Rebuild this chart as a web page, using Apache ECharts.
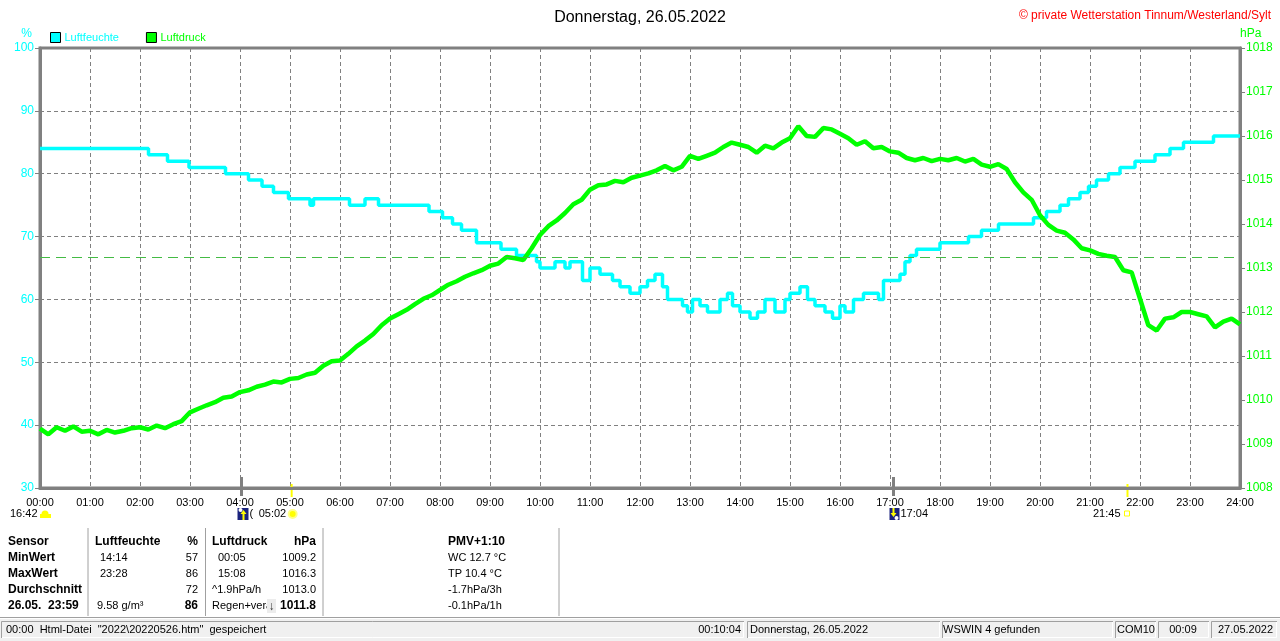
<!DOCTYPE html>
<html>
<head>
<meta charset="utf-8">
<script src="https://cdn.jsdelivr.net/npm/echarts/dist/echarts.min.js"></script>
<style>
  html, body { margin: 0; padding: 0; background: #fff; }
  #chart { width: 1280px; height: 641px; }
</style>
</head>
<body>
<div id="chart"></div>
<script>
// Luftfeuchte (%), stepwise: time in hours -> new value
const humidityTimes = [0, 2.17, 2.55, 2.98, 3.71, 4.17, 4.44, 4.67, 4.97, 5.40, 5.47, 6.19, 6.50, 6.77, 7.78,
  8.05, 8.25, 8.43, 8.73, 9.22, 9.53, 9.93, 10.0, 10.3, 10.5, 10.6, 10.85, 11.0, 11.2, 11.45, 11.6, 11.8,
  12.0, 12.15, 12.3, 12.45, 12.55, 12.85, 12.95, 13.05, 13.2, 13.35, 13.6, 13.75, 13.85, 14.0, 14.2, 14.35,
  14.5, 14.7, 14.9, 15.0, 15.2, 15.35, 15.5, 15.7, 15.85, 16.0, 16.1, 16.27, 16.47, 16.77, 16.87, 17.2,
  17.3, 17.4, 17.53, 18.0, 18.13, 18.57, 18.83, 19.17, 19.87, 20.13, 20.4, 20.57, 20.8, 20.97, 21.13,
  21.37, 21.6, 21.9, 22.3, 22.6, 22.87, 23.47, 24];
const humidityValues = [84, 83, 82, 81, 80, 79, 78, 77, 76, 75, 76, 75, 76, 75, 74,
  73, 72, 71, 69, 68, 67, 66, 65, 66, 65, 66, 63, 65, 64, 63, 62, 61,
  62, 63, 64, 62, 60, 59, 58, 60, 59, 58, 60, 61, 59, 58, 57, 58,
  60, 58, 60, 61, 62, 60, 59, 58, 57, 59, 58, 60, 61, 60, 63, 64,
  66, 67, 68, 69, 69, 70, 71, 72, 73, 74, 75, 76, 77, 78, 79,
  80, 81, 82, 83, 84, 85, 86, 86];

// Luftdruck (hPa), one reading every 10 minutes from 00:00 to 24:00
const pressureStepMinutes = 10;
const pressureValues = [
  1009.35, 1009.22, 1009.38, 1009.30, 1009.40, 1009.28,   // 00
  1009.30, 1009.22, 1009.32, 1009.26, 1009.30, 1009.36,   // 01
  1009.38, 1009.33, 1009.42, 1009.36, 1009.45, 1009.52,   // 02
  1009.72, 1009.80, 1009.88, 1009.95, 1010.05, 1010.08,   // 03
  1010.18, 1010.22, 1010.30, 1010.35, 1010.42, 1010.40,   // 04
  1010.48, 1010.50, 1010.58, 1010.62, 1010.78, 1010.88,   // 05
  1010.90, 1011.05, 1011.22, 1011.35, 1011.50, 1011.70,   // 06
  1011.85, 1011.95, 1012.05, 1012.18, 1012.30, 1012.38,   // 07
  1012.50, 1012.62, 1012.70, 1012.80, 1012.88, 1012.95,   // 08
  1013.05, 1013.10, 1013.25, 1013.22, 1013.18, 1013.45,   // 09
  1013.75, 1013.95, 1014.08, 1014.25, 1014.45, 1014.55,   // 10
  1014.78, 1014.88, 1014.90, 1014.98, 1014.95, 1015.05,   // 11
  1015.10, 1015.15, 1015.22, 1015.32, 1015.22, 1015.30,   // 12
  1015.55, 1015.48, 1015.55, 1015.62, 1015.75, 1015.85,   // 13
  1015.80, 1015.75, 1015.62, 1015.78, 1015.72, 1015.85,   // 14
  1015.95, 1016.22, 1016.00, 1015.98, 1016.18, 1016.15,   // 15
  1016.05, 1015.95, 1015.80, 1015.88, 1015.72, 1015.75,   // 16
  1015.65, 1015.62, 1015.50, 1015.45, 1015.50, 1015.43,   // 17
  1015.48, 1015.45, 1015.50, 1015.42, 1015.48, 1015.35,   // 18
  1015.30, 1015.36, 1015.25, 1014.95, 1014.72, 1014.55,   // 19
  1014.20, 1013.98, 1013.85, 1013.80, 1013.65, 1013.45,   // 20
  1013.40, 1013.32, 1013.28, 1013.25, 1012.95, 1012.90,   // 21
  1012.30, 1011.70, 1011.58, 1011.85, 1011.88, 1012.00,   // 22
  1012.00, 1011.95, 1011.90, 1011.65, 1011.78, 1011.85,   // 23
  1011.72                                                 // 24
];

const pressureRef = 1013.25;
const sunTimes = [5.033, 21.75];   // Sonnenaufgang / -untergang
const moonTimes = [4.03, 17.07];   // Mond

const FONT = 'Liberation Sans';
const GRID_LINE = '#808080';

const chart = echarts.init(document.getElementById('chart'));

const hourLabel = v => (v < 10 ? '0' : '') + v + ':00';

const option = {
  animation: false,
  backgroundColor: '#fff',
  textStyle: { fontFamily: FONT },
  title: [
    { text: 'Donnerstag, 26.05.2022', left: 'center', top: 5,
      textStyle: { fontFamily: FONT, fontSize: 16, fontWeight: 'normal', color: '#000' } },
    { text: '\u00a9 private Wetterstation Tinnum/Westerland/Sylt', right: 4, top: 5,
      textStyle: { fontFamily: FONT, fontSize: 12, fontWeight: 'normal', color: '#ff0000' } }
  ],
  legend: {
    left: 45, top: 27, itemWidth: 10, itemHeight: 10, itemGap: 27,
    icon: 'rect',
    textStyle: { fontFamily: FONT, fontSize: 11, padding: [0, 0, 0, -1] },
    data: [
      { name: 'Luftfeuchte', textStyle: { color: '#00ffff' }, itemStyle: { color: '#00ffff', borderColor: '#000', borderWidth: 1 } },
      { name: 'Luftdruck', textStyle: { color: '#00ff00' }, itemStyle: { color: '#00ff00', borderColor: '#000', borderWidth: 1 } }
    ]
  },
  grid: { left: 40, top: 48, width: 1200, height: 440, show: true, borderColor: GRID_LINE, borderWidth: 3,
    outerBoundsMode: 'none', containLabel: false },
  xAxis: {
    type: 'value', min: 0, max: 24, interval: 1,
    axisLine: { show: true, onZero: false, lineStyle: { color: GRID_LINE, width: 3 } },
    axisTick: { show: false },
    axisLabel: { color: '#000', fontSize: 11, margin: 9, fontFamily: FONT, formatter: hourLabel,
      showMinLabel: true, showMaxLabel: true },
    splitLine: { show: true, lineStyle: { color: GRID_LINE, width: 1, type: [4, 3] } }
  },
  yAxis: [
    {
      type: 'value', min: 30, max: 100, interval: 10, position: 'left',
      name: '%', nameLocation: 'end', nameGap: 8,
      nameTextStyle: { color: '#00ffff', fontSize: 12, fontFamily: FONT, align: 'right', padding: [0, 8, 0, 0] },
      axisLine: { show: true, lineStyle: { color: GRID_LINE, width: 3 } },
      axisTick: { show: true, length: 5, lineStyle: { color: GRID_LINE, width: 1 } },
      axisLabel: { color: '#00ffff', fontSize: 12, margin: 6, fontFamily: FONT },
      splitLine: { show: true, lineStyle: { color: GRID_LINE, width: 1, type: [4, 3] } }
    },
    {
      type: 'value', min: 1008, max: 1018, interval: 1, position: 'right',
      name: 'hPa', nameLocation: 'end', nameGap: 8,
      nameTextStyle: { color: '#00ff00', fontSize: 12, fontFamily: FONT, align: 'left' },
      axisLine: { show: true, lineStyle: { color: GRID_LINE, width: 3 } },
      axisTick: { show: true, length: 5, lineStyle: { color: GRID_LINE, width: 1 } },
      axisLabel: { color: '#00ff00', fontSize: 12, margin: 6, fontFamily: FONT, formatter: v => String(v) },
      splitLine: { show: false }
    }
  ],
  series: [
    {
      name: 'Luftfeuchte', type: 'line', yAxisIndex: 0, step: 'end', showSymbol: false, symbol: 'none',
      lineStyle: { color: '#00ffff', width: 3.5 }, itemStyle: { color: '#00ffff' },
      data: humidityTimes.map((t, i) => [t, humidityValues[i]]),
      z: 3
    },
    {
      name: 'Luftdruck', type: 'line', yAxisIndex: 1, showSymbol: false, symbol: 'none',
      lineStyle: { color: '#00ff00', width: 4.5 }, itemStyle: { color: '#00ff00' },
      data: pressureValues.map((v, i) => [i * pressureStepMinutes / 60, v]),
      markLine: {
        silent: true, symbol: 'none', label: { show: false },
        lineStyle: { color: '#44bb44', width: 1, type: [10, 6] },
        data: [{ yAxis: pressureRef }]
      },
      z: 4
    }
  ]
};

chart.setOption(option);

// --- decorations below the plot: sun / moon markers, table, status bar ---
const px = t => chart.convertToPixel({ xAxisIndex: 0 }, t);
const g = [];
const normalFont = '11px "' + FONT + '"';
const boldFont = 'bold 12px "' + FONT + '"';
const txt = (x, y, s, opt) => g.push({
  type: 'text', x, y, silent: true,
  style: Object.assign({ text: s, fill: '#000', font: normalFont, textVerticalAlign: 'middle' }, opt || {})
});

// ticks on the time axis
moonTimes.forEach(t => g.push({ type: 'line', silent: true, shape: { x1: px(t), y1: 477, x2: px(t), y2: 496 },
  style: { stroke: '#808080', lineWidth: 3 } }));
sunTimes.forEach(t => g.push({ type: 'line', silent: true, shape: { x1: px(t), y1: 484, x2: px(t), y2: 497 },
  style: { stroke: '#ffff00', lineWidth: 2 } }));

// marker row
txt(10, 514, '16:42');
g.push({ type: 'circle', silent: true, shape: { cx: 45, cy: 514, r: 3.5 }, style: { fill: '#ffff00' } });
g.push({ type: 'rect', silent: true, shape: { x: 40, y: 514, width: 11, height: 4 }, style: { fill: '#ffff00' } });
// moon icon (rise)
const m1 = px(moonTimes[0]);
g.push({ type: 'rect', silent: true, shape: { x: m1 - 4, y: 508, width: 11, height: 12 }, style: { fill: '#1a237e' } });
g.push({ type: 'circle', silent: true, shape: { cx: m1 - 1, cy: 510, r: 2 }, style: { fill: '#ffffff' } });
g.push({ type: 'polygon', silent: true, shape: { points: [[m1 + 2, 510], [m1 + 5, 514], [m1 + 3, 514], [m1 + 3, 520], [m1 + 1, 520], [m1 + 1, 514], [m1 - 1, 514]] },
  style: { fill: '#ffff00' } });
txt(m1 + 8, 514, '(');
const s1 = px(sunTimes[0]);
txt(s1 - 33, 514, '05:02');
g.push({ type: 'circle', silent: true, shape: { cx: s1 + 1, cy: 514, r: 4 }, style: { fill: '#ffff00', stroke: '#ffff88', lineWidth: 2 } });
// moon icon (set)
const m2 = px(moonTimes[1]);
g.push({ type: 'rect', silent: true, shape: { x: m2 - 4, y: 508, width: 10, height: 12 }, style: { fill: '#1a237e' } });
g.push({ type: 'polygon', silent: true, shape: { points: [[m2 - 1, 508], [m2 + 1, 508], [m2 + 1, 513], [m2 + 3, 513], [m2, 517], [m2 - 3, 513], [m2 - 1, 513]] },
  style: { fill: '#ffff00' } });
g.push({ type: 'circle', silent: true, shape: { cx: m2 + 3, cy: 518, r: 2 }, style: { fill: '#ffffff' } });
txt(m2 + 7, 514, '17:04');
const s2 = px(sunTimes[1]);
txt(s2 - 7, 514, '21:45', { textAlign: 'right' });
g.push({ type: 'rect', silent: true, shape: { x: s2 - 3, y: 511, width: 5, height: 5 }, style: { fill: 'none', stroke: '#ffff00', lineWidth: 1 } });

// table
const rows = [541.5, 557.5, 573.5, 589.5, 606];
['Sensor', 'MinWert', 'MaxWert', 'Durchschnitt', '26.05.  23:59'].forEach((s, i) => txt(8, rows[i], s, { font: boldFont }));
txt(95, rows[0], 'Luftfeuchte', { font: boldFont });
txt(198, rows[0], '%', { font: boldFont, textAlign: 'right' });
txt(100, rows[1], '14:14'); txt(198, rows[1], '57', { textAlign: 'right' });
txt(100, rows[2], '23:28'); txt(198, rows[2], '86', { textAlign: 'right' });
txt(198, rows[3], '72', { textAlign: 'right' });
txt(97, rows[4], '9.58 g/m\u00b3'); txt(198, rows[4], '86', { font: boldFont, textAlign: 'right' });
txt(212, rows[0], 'Luftdruck', { font: boldFont });
txt(316, rows[0], 'hPa', { font: boldFont, textAlign: 'right' });
txt(218, rows[1], '00:05'); txt(316, rows[1], '1009.2', { textAlign: 'right' });
txt(218, rows[2], '15:08'); txt(316, rows[2], '1016.3', { textAlign: 'right' });
txt(212, rows[3], '^1.9hPa/h'); txt(316, rows[3], '1013.0', { textAlign: 'right' });
txt(212, rows[4], 'Regen+ver\u00e4');
g.push({ type: 'rect', silent: true, shape: { x: 267, y: 599, width: 9, height: 14 }, style: { fill: '#ececec' } });
txt(271.5, rows[4] + 1, '\u2193', { font: boldFont, textAlign: 'center', fill: '#333' });
txt(316, rows[4], '1011.8', { font: boldFont, textAlign: 'right' });
txt(448, rows[0], 'PMV+1:10', { font: boldFont });
txt(448, rows[1], 'WC 12.7 \u00b0C');
txt(448, rows[2], 'TP 10.4 \u00b0C');
txt(448, rows[3], '-1.7hPa/3h');
txt(448, rows[4], '-0.1hPa/1h');
[88, 205.5, 323, 559].forEach(x => g.push({ type: 'line', silent: true, shape: { x1: x, y1: 528, x2: x, y2: 616 },
  style: { stroke: '#a0a0a0', lineWidth: 1 } }));

// status bar
g.push({ type: 'rect', silent: true, shape: { x: 0, y: 617, width: 1280, height: 24 }, style: { fill: '#f0f0f0' } });
g.push({ type: 'line', silent: true, shape: { x1: 0, y1: 617.5, x2: 1280, y2: 617.5 }, style: { stroke: '#a0a0a0', lineWidth: 1 } });
g.push({ type: 'line', silent: true, shape: { x1: 0, y1: 618.5, x2: 1280, y2: 618.5 }, style: { stroke: '#ffffff', lineWidth: 1 } });
const panels = [[1, 744], [747, 940], [942, 1113], [1115, 1156], [1158, 1209], [1211, 1277]];
panels.forEach(([a, b]) => {
  g.push({ type: 'polyline', silent: true, shape: { points: [[a + 0.5, 638], [a + 0.5, 621.5], [b, 621.5]] }, style: { stroke: '#a0a0a0', lineWidth: 1, fill: 'none' } });
  g.push({ type: 'polyline', silent: true, shape: { points: [[a + 1, 637.5], [b - 0.5, 637.5], [b - 0.5, 622]] }, style: { stroke: '#ffffff', lineWidth: 1, fill: 'none' } });
});
const sy = 630;
txt(6, sy, '00:00  Html-Datei  "2022\\20220526.htm"  gespeichert');
txt(741, sy, '00:10:04', { textAlign: 'right' });
txt(750, sy, 'Donnerstag, 26.05.2022');
txt(943, sy, 'WSWIN 4 gefunden');
txt(1117, sy, 'COM10');
txt(1183, sy, '00:09', { textAlign: 'center' });
txt(1218, sy, '27.05.2022');

chart.setOption({ graphic: g });
</script>
</body>
</html>
